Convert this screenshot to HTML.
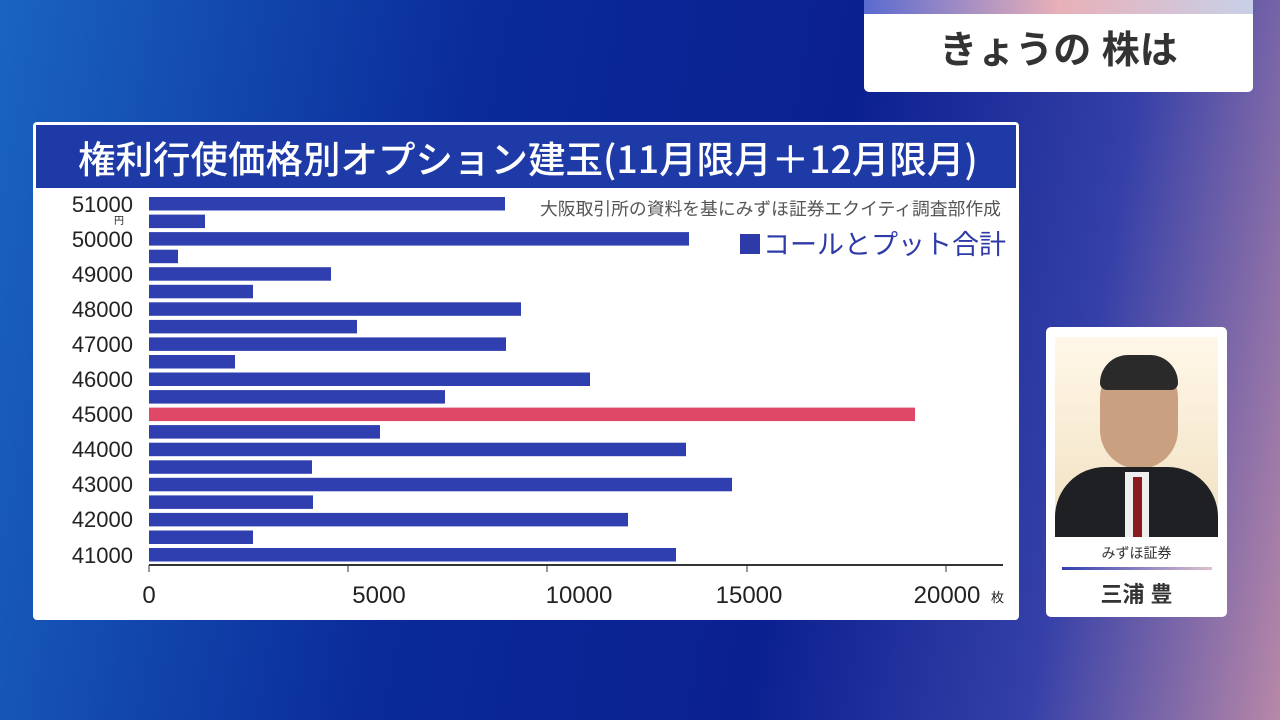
<!DOCTYPE html><html><head><meta charset="utf-8"><style>
body{margin:0;width:1280px;height:720px;overflow:hidden;position:relative;font-family:"Liberation Sans","Noto Sans CJK JP",sans-serif;
background:linear-gradient(100deg,#1a64c0 0%,#0a2a9a 35%,#0b2090 62%,#3540a8 82%,#b888a8 100%);}
.abs{position:absolute}
</style></head><body>
<div class="abs" style="left:864px;top:0;width:389px;height:92px;background:#fff;border-radius:0 0 5px 5px;overflow:hidden">
<div style="height:14px;background:linear-gradient(90deg,#5a6ad0,#e8b0b8,#c8d0e8)"></div>
<div style="text-align:center;font-size:38px;font-weight:bold;color:#333;line-height:74px">きょうの 株は</div></div>
<div class="abs" style="left:33px;top:122px;width:986px;height:498px;background:#fff;border-radius:4px"></div>
<div class="abs" style="left:36px;top:125px;width:980px;height:63px;background:#1e3aa6;color:#fff;font-size:37.5px;line-height:63px;padding-left:42px;box-sizing:border-box;font-weight:500;white-space:nowrap;font-family:'Noto Sans CJK JP',sans-serif">権利行使価格別オプション建玉(11月限月＋12月限月)</div>
<div class="abs" style="left:540px;top:196px;font-size:17.8px;color:#555;white-space:nowrap;font-family:'Noto Sans CJK JP',sans-serif;line-height:24px">大阪取引所の資料を基にみずほ証券エクイティ調査部作成</div>
<div class="abs" style="left:740px;top:225px;font-size:27px;color:#2d3aa8;white-space:nowrap;font-family:'Noto Sans CJK JP',sans-serif;line-height:36px"><span style="display:inline-block;width:20px;height:20px;background:#2d3aa8;margin-right:3px"></span>コールとプット合計</div>
<svg class="abs" style="left:0;top:0" width="1280" height="720">
<g fill="#2f3fb0" id="bars"></g>
<line x1="149" y1="565" x2="1003" y2="565" stroke="#333" stroke-width="2"/>
<g stroke="#333"><line x1="149" y1="565" x2="149" y2="572"/><line x1="348" y1="565" x2="348" y2="572"/><line x1="547" y1="565" x2="547" y2="572"/><line x1="747" y1="565" x2="747" y2="572"/><line x1="946" y1="565" x2="946" y2="572"/></g>
<g font-family="Liberation Sans,sans-serif" font-size="24" fill="#222" text-anchor="middle">
<text x="149" y="603">0</text><text x="379" y="603">5000</text><text x="579" y="603">10000</text><text x="749" y="603">15000</text><text x="947" y="603">20000</text></g>
<text x="991" y="602" font-size="13" fill="#222" font-family="Noto Sans CJK JP">枚</text>
<g font-family="Liberation Sans,sans-serif" font-size="22" fill="#222" text-anchor="end">
<text x="133" y="212">51000</text><text x="133" y="247">50000</text><text x="133" y="282">49000</text><text x="133" y="317">48000</text><text x="133" y="352">47000</text><text x="133" y="387">46000</text><text x="133" y="422">45000</text><text x="133" y="457">44000</text><text x="133" y="492">43000</text><text x="133" y="527">42000</text><text x="133" y="563">41000</text></g>
<text x="114" y="224" font-size="10" fill="#222" font-family="Noto Sans CJK JP">円</text>
</svg>
<div class="abs" style="left:1046px;top:327px;width:181px;height:290px;background:#fff;border-radius:5px">
<div style="position:absolute;left:9px;top:10px;width:163px;height:200px;background:linear-gradient(#fff7e8,#f0e0c0);overflow:hidden">
<div style="position:absolute;left:45px;top:22px;width:78px;height:110px;border-radius:40px;background:#c9a080"></div>
<div style="position:absolute;left:45px;top:18px;width:78px;height:35px;border-radius:40px 40px 10px 10px;background:#2a2a2a"></div>
<div style="position:absolute;left:0;top:130px;width:163px;height:70px;background:#1e2024;border-radius:50px 50px 0 0"></div>
<div style="position:absolute;left:70px;top:135px;width:24px;height:65px;background:#eee"></div>
<div style="position:absolute;left:78px;top:140px;width:9px;height:60px;background:#8a1a20"></div></div>
<div style="position:absolute;top:216px;width:100%;text-align:center;font-size:14px;color:#333">みずほ証券</div>
<div style="position:absolute;left:16px;top:240px;width:150px;height:3px;background:linear-gradient(90deg,#3040b0,#e0c0d0)"></div>
<div style="position:absolute;top:250px;width:100%;text-align:center;font-size:22px;font-weight:bold;color:#333">三浦 豊</div></div>
<script>
var ends=[505,205,689,178,331,253,521,357,506,235,590,445,915,380,686,312,732,313,628,253,676];
var g=document.getElementById('bars'),s='';
ends.forEach(function(e,i){var y=197+i*17.55;s+='<rect x="149" y="'+y.toFixed(1)+'" width="'+(e-149)+'" height="13.5" fill="'+(i==12?'#e04868':'#2f3fb0')+'"/>';});
g.innerHTML=s;
</script>
</body></html>
